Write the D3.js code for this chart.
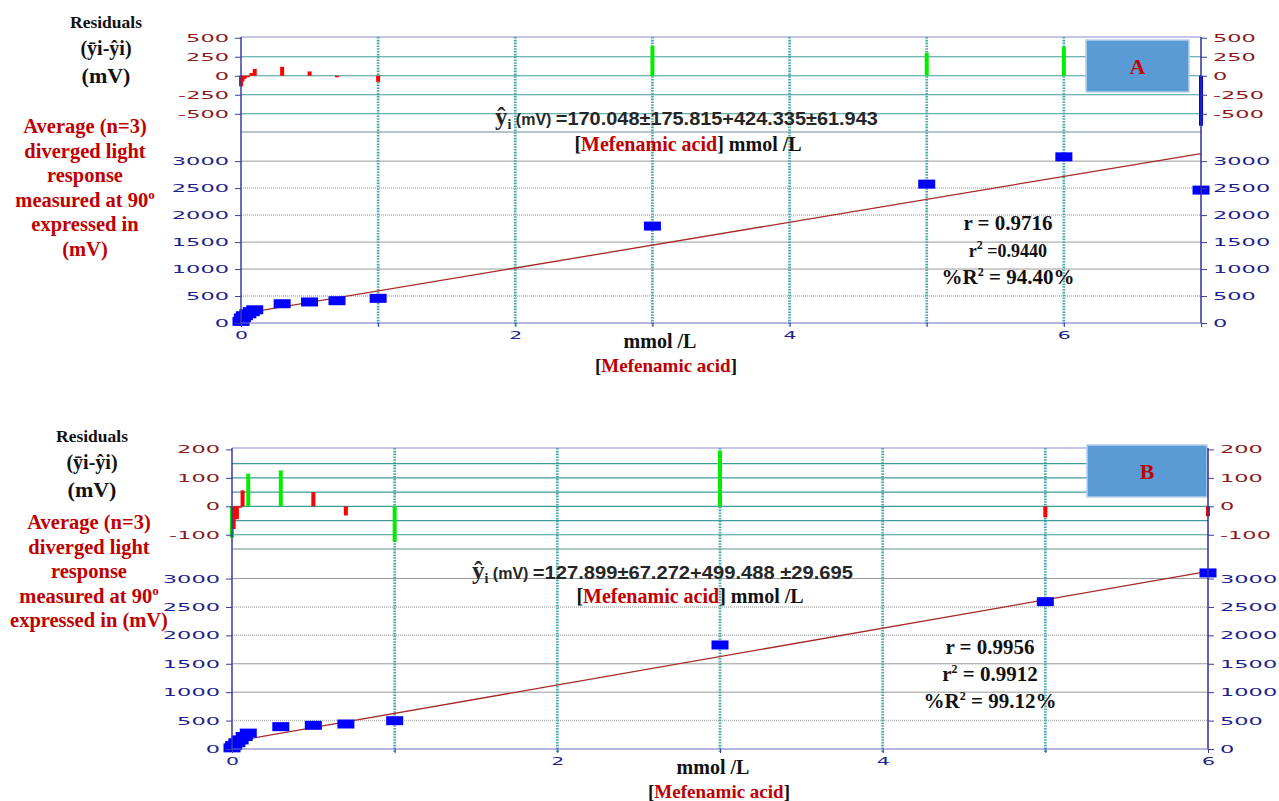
<!DOCTYPE html>
<html>
<head>
<meta charset="utf-8">
<script src="https://cdn.jsdelivr.net/npm/d3@7"></script>
<style>
  body { margin: 0; background: #fff; }
</style>
</head>
<body>
<div id="chart"></div>
<script>
// ---- Panel A data (all points, up to 7 mmol/L) ----
const concA = [0, 0.01, 0.025, 0.05, 0.075, 0.1, 0.3, 0.5, 0.7, 1, 3, 5, 6, 7];
const respA = [30, 95, 135, 170, 210, 245, 357, 390, 413, 457, 1796, 2574, 3080, 2463];
const residXA = [0, 0.01, 0.025, 0.05, 0.075, 0.1, 0.3, 0.5, 0.7, 1, 3, 5, 6, 7];
const residA = [-140, -75, -43, -20, 35, 90, 118, 57, -20, -80, 395, 303, 382, -658];
const residGroupA = [0, 0, 0, 0, 0, 0, 0, 0, 0, 0, 1, 1, 1, 2];
const fitA = { a: 170.048, b: 424.335 };
const residTicksA = [500, 250, 0, -250, -500];
const residGridA = [250, 0, -250, -500];

// ---- Panel B data (outlier at 7 removed) ----
const concB = [0, 0.01, 0.03, 0.05, 0.075, 0.1, 0.3, 0.5, 0.7, 1, 3, 5, 6];
const respB = [20, 60, 110, 160, 220, 280, 393, 417, 440, 498, 1831, 2593, 3099];
const residXB = [0, 0.01, 0.03, 0.05, 0.065, 0.1, 0.3, 0.5, 0.7, 1, 3, 5, 6];
const residB = [-110, -80, -45, -5, 56, 115, 126, 50, -32, -125, 196, -39, -35];
const residGroupB = [1, 0, 0, 0, 0, 1, 1, 0, 0, 1, 1, 0, 0];
const fitB = { a: 127.899, b: 499.488 };
const residTicksB = [200, 100, 0, -100];
const residGridB = [150, 100, 50, 0, -50, -100];

// shared
const mainTicks = [0, 500, 1000, 1500, 2000, 2500, 3000];
const dottedMain = [500, 2000, 2500];
const groupColors = ['#ff0000', '#00ee00', '#0000ff'];

const serif = "'Liberation Serif', 'Times New Roman', serif";
const sans = "'Liberation Sans', Arial, sans-serif";
const tickFont = "'DejaVu Sans', Verdana, sans-serif";

const svg = d3.select('#chart')
    .append('svg')
    .attr('width', 1279)
    .attr('height', 801);

// Stretch tick labels so they look like the wide original font
function stretchLabels(g) {
    g.selectAll('text')
        .attr('textLength', function() {
            const t = this.textContent;
            return t.replace('-', '').length * 14.3 + (t.includes('-') ? 8 : 0);
        })
        .attr('lengthAdjust', 'spacingAndGlyphs');
}

function drawPanel(p) {
    const x = d3.scaleLinear().domain([0, p.xMax]).range([p.left, p.right]);
    const ry = d3.scaleLinear().domain(p.residDomain).range([p.sepY, p.top]);
    const my = d3.scaleLinear().domain([0, p.mainMax]).range([p.baseY, p.sepY]);

    const g = svg.append('g');

    // Main horizontal gridlines
    g.selectAll('.mgrid')
        .data(mainTicks.slice(1))
        .join('line')
        .attr('x1', p.left).attr('x2', p.right)
        .attr('y1', d => my(d)).attr('y2', d => my(d))
        .attr('stroke', d => dottedMain.includes(d) ? '#b4b4b4' : '#9a9a9a')
        .attr('stroke-width', d => dottedMain.includes(d) ? 1.5 : 1)
        .attr('stroke-dasharray', d => dottedMain.includes(d) ? '1,1' : null);

    // Residual horizontal gridlines
    g.selectAll('.rgrid')
        .data(p.residGrid)
        .join('line')
        .attr('x1', p.left).attr('x2', p.right)
        .attr('y1', d => ry(d)).attr('y2', d => ry(d))
        .attr('stroke', '#3f9c9c')
        .attr('stroke-width', 1.2);

    // Separator between residual and main panels
    g.append('line')
        .attr('x1', p.left).attr('x2', p.right)
        .attr('y1', p.sepY).attr('y2', p.sepY)
        .attr('stroke', '#6f8f8f')
        .attr('stroke-width', 1.2);

    // Top border
    g.append('line')
        .attr('x1', p.left).attr('x2', p.right)
        .attr('y1', p.top).attr('y2', p.top)
        .attr('stroke', '#8c8cd0')
        .attr('stroke-width', 1.2);

    // Vertical dotted gridlines
    g.selectAll('.vgrid')
        .data(d3.range(1, p.xMax))
        .join('line')
        .attr('x1', d => x(d)).attr('x2', d => x(d))
        .attr('y1', p.top).attr('y2', p.baseY + 3)
        .attr('stroke', '#4aa9a9')
        .attr('stroke-width', 2.8)
        .attr('stroke-dasharray', '1.6,1.2');

    // Label box
    g.append('rect')
        .attr('x', p.box[0]).attr('y', p.box[1])
        .attr('width', p.box[2]).attr('height', p.box[3])
        .attr('fill', '#5b9bd5')
        .attr('stroke', '#b8d0ec')
        .attr('stroke-width', 1.5);
    g.append('text')
        .attr('x', p.box[0] + p.box[2] / 2)
        .attr('y', p.box[1] + p.box[3] / 2 + 8)
        .attr('text-anchor', 'middle')
        .style('font-family', serif)
        .style('font-weight', 'bold')
        .style('font-size', '22px')
        .attr('fill', '#c00000')
        .text(p.name);

    // Regression line
    g.append('line')
        .attr('x1', x(0)).attr('x2', x(p.xMax))
        .attr('y1', my(p.fit.a)).attr('y2', my(p.fit.a + p.fit.b * p.xMax))
        .attr('stroke', '#a52a2a')
        .attr('stroke-width', 1.3);

    // Residual bars
    p.residX.forEach((cx, i) => {
        const v = p.resid[i];
        g.append('rect')
            .attr('x', x(cx) - 2)
            .attr('y', Math.min(ry(0), ry(v)))
            .attr('width', 4)
            .attr('height', Math.abs(ry(v) - ry(0)))
            .attr('fill', groupColors[p.groups[i]]);
    });

    // Data points
    g.selectAll('.pt')
        .data(p.conc.map((c, i) => [c, p.resp[i]]))
        .join('rect')
        .attr('x', d => x(d[0]) - 8.5)
        .attr('y', d => my(d[1]) - 4.5)
        .attr('width', 17)
        .attr('height', 9)
        .attr('fill', '#0000ff');

    // Axis lines
    g.append('line')
        .attr('x1', p.left).attr('x2', p.left)
        .attr('y1', p.top).attr('y2', p.baseY)
        .attr('stroke', '#3b3ba6').attr('stroke-width', 1.5);
    g.append('line')
        .attr('x1', p.right).attr('x2', p.right)
        .attr('y1', p.top).attr('y2', p.baseY)
        .attr('stroke', '#2f2f99').attr('stroke-width', 1.5);
    g.append('line')
        .attr('x1', p.left).attr('x2', p.right)
        .attr('y1', p.baseY).attr('y2', p.baseY)
        .attr('stroke', '#6a6ac4').attr('stroke-width', 1.2);

    // Y axes (left and right, residual + main)
    const fmt = d => String(d);
    const axes = [
        [d3.axisLeft(ry).tickValues(p.residTicks), p.left, '#8b1a1a'],
        [d3.axisRight(ry).tickValues(p.residTicks), p.right, '#8b1a1a'],
        [d3.axisLeft(my).tickValues(mainTicks), p.left, '#1f1f8f'],
        [d3.axisRight(my).tickValues(mainTicks), p.right, '#1f1f8f']
    ];
    axes.forEach(([ax, xPos, color]) => {
        const a = g.append('g')
            .attr('transform', `translate(${xPos},0)`)
            .call(ax.tickFormat(fmt).tickSize(6).tickSizeOuter(0).tickPadding(6));
        a.select('.domain').remove();
        a.selectAll('line').attr('stroke', '#3b3ba6');
        a.selectAll('text')
            .attr('fill', color)
            .style('font-family', tickFont)
            .style('font-size', '11px');
        stretchLabels(a);
    });

    // X axis
    const xa = g.append('g')
        .attr('transform', `translate(0,${p.baseY})`)
        .call(d3.axisBottom(x)
            .tickValues(d3.range(0, p.xMax + 1))
            .tickFormat(d => d % 2 === 0 ? String(d) : '')
            .tickSize(4).tickSizeOuter(0).tickPadding(4));
    xa.select('.domain').remove();
    xa.selectAll('line').attr('stroke', '#3b3ba6');
    xa.selectAll('text')
        .attr('fill', '#1f1f8f')
        .style('font-family', tickFont)
        .style('font-size', '11px')
        .attr('textLength', function() { return this.textContent ? 13 : 0; })
        .attr('lengthAdjust', 'spacingAndGlyphs');

    // Left titles
    const rt = p.resTitle;
    [['Residuals', 17.5, 0], ['(ȳi-ŷi)', 20, 27], ['(mV)', 22, 55]].forEach(([t, fs, dy]) => {
        g.append('text')
            .attr('x', rt[0]).attr('y', rt[1] + dy)
            .attr('text-anchor', 'middle')
            .style('font-family', serif).style('font-weight', 'bold')
            .style('font-size', fs + 'px')
            .attr('fill', '#111')
            .text(t);
    });

    p.redLines.forEach((t, i) => {
        const tx = g.append('text')
            .attr('x', p.redPos[0]).attr('y', p.redPos[1] + i * p.redStep)
            .attr('text-anchor', 'middle')
            .style('font-family', serif).style('font-weight', 'bold')
            .style('font-size', '20.5px')
            .attr('fill', '#c00000');
        if (t.endsWith('90')) {
            tx.append('tspan').text(t);
            tx.append('tspan').attr('dy', -8).style('font-size', '13px').text('o');
        } else {
            tx.text(t);
        }
    });

    // Equation
    const eq = g.append('text')
        .attr('x', p.eqPos[0]).attr('y', p.eqPos[1])
        .attr('fill', '#262626')
        .style('font-weight', 'bold');
    eq.append('tspan').style('font-family', serif).style('font-size', '25px').text('ŷ');
    eq.append('tspan').attr('dy', 4).style('font-family', serif).style('font-size', '14px').text('i');
    eq.append('tspan').attr('dy', -4).style('font-family', sans).style('font-size', '16px').text(' (mV) ');
    eq.append('tspan').style('font-family', sans).style('font-size', '18px')
        .attr('textLength', p.eqLen).attr('lengthAdjust', 'spacingAndGlyphs')
        .text(p.eqText);

    const unit = g.append('text')
        .attr('x', p.unitPos[0]).attr('y', p.unitPos[1])
        .attr('text-anchor', 'middle')
        .style('font-family', serif).style('font-weight', 'bold')
        .style('font-size', '20px');
    unit.append('tspan').attr('fill', '#111').text('[');
    unit.append('tspan').attr('fill', '#c00000').text('Mefenamic acid');
    unit.append('tspan').attr('fill', '#111').text('] mmol /L');

    // X axis titles
    g.append('text')
        .attr('x', p.xTitle[0]).attr('y', p.xTitle[1])
        .attr('text-anchor', 'middle')
        .style('font-family', serif).style('font-weight', 'bold')
        .style('font-size', '20px').attr('fill', '#111')
        .text('mmol /L');
    const xt = g.append('text')
        .attr('x', p.xTitle[0] + 6).attr('y', p.xTitle[1] + 24)
        .attr('text-anchor', 'middle')
        .style('font-family', serif).style('font-weight', 'bold')
        .style('font-size', '19px');
    xt.append('tspan').attr('fill', '#111').text('[');
    xt.append('tspan').attr('fill', '#c00000').text('Mefenamic acid');
    xt.append('tspan').attr('fill', '#111').text(']');

    // Correlation stats
    p.stats.forEach(([pre, sup, post, fs], i) => {
        const st = g.append('text')
            .attr('x', p.statPos[0]).attr('y', p.statPos[1] + i * 27)
            .attr('text-anchor', 'middle')
            .style('font-family', serif).style('font-weight', 'bold')
            .style('font-size', fs + 'px')
            .attr('fill', '#111');
        st.append('tspan').text(pre);
        if (sup) {
            st.append('tspan').attr('dy', -8).style('font-size', '12px').text(sup);
            st.append('tspan').attr('dy', 8).text(post);
        }
    });
}

drawPanel({
    name: 'A', xMax: 7, left: 241, right: 1201,
    top: 37, sepY: 132, baseY: 323,
    residDomain: [-740, 510], mainMax: 3540,
    residTicks: residTicksA, residGrid: residGridA,
    conc: concA, resp: respA, residX: residXA, resid: residA, groups: residGroupA, fit: fitA,
    box: [1086, 40, 103, 52],
    resTitle: [106, 28],
    redLines: ['Average (n=3)', 'diverged light', 'response', 'measured at 90', 'expressed in', '(mV)'],
    redPos: [85, 133], redStep: 24.5,
    eqPos: [495, 125], eqText: '=170.048±175.815+424.335±61.943', eqLen: 322,
    unitPos: [688, 151],
    xTitle: [660, 348],
    statPos: [1008, 230],
    stats: [['r = 0.9716', '', '', 21], ['r', '2', ' =0.9440', 18], ['%R', '2', ' = 94.40%', 21]]
});

drawPanel({
    name: 'B', xMax: 6, left: 232, right: 1208,
    top: 448, sepY: 549, baseY: 749,
    residDomain: [-150, 205], mainMax: 3520,
    residTicks: residTicksB, residGrid: residGridB,
    conc: concB, resp: respB, residX: residXB, resid: residB, groups: residGroupB, fit: fitB,
    box: [1087, 445, 120, 52],
    resTitle: [92, 442],
    redLines: ['Average (n=3)', 'diverged light', 'response', 'measured at 90', 'expressed in (mV)'],
    redPos: [89, 529], redStep: 24.5,
    eqPos: [472, 579], eqText: '=127.899±67.272+499.488 ±29.695', eqLen: 320,
    unitPos: [690, 603],
    xTitle: [713, 774],
    statPos: [990, 654],
    stats: [['r = 0.9956', '', '', 21], ['r', '2', ' = 0.9912', 21], ['%R', '2', ' = 99.12%', 21]]
});
</script>
</body>
</html>
